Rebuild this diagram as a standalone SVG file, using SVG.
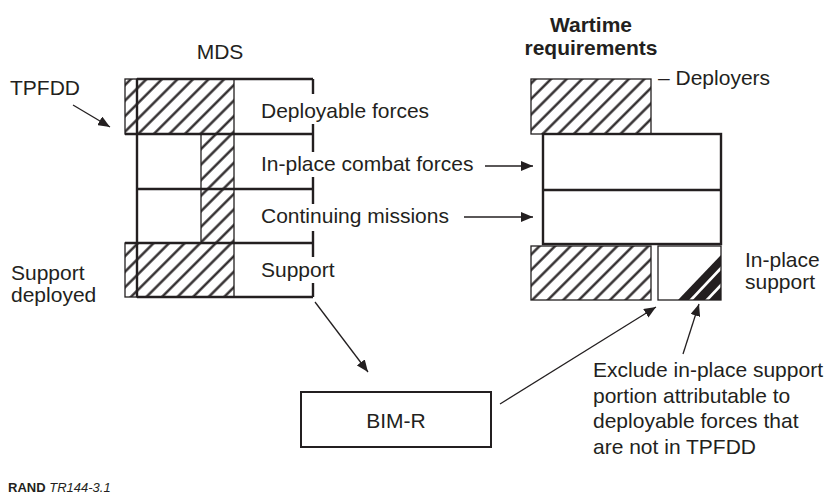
<svg xmlns="http://www.w3.org/2000/svg" width="831" height="496" viewBox="0 0 831 496">
  <style>
    text { font-family: "Liberation Sans", Arial, Helvetica, sans-serif; font-size: 21px; fill: #231f20; }
    .b { font-weight: bold; }
    .mid { text-anchor: middle; }
    .frame { fill: none; stroke: #231f20; stroke-width: 2.4; }
    .edge { fill: none; stroke: #231f20; stroke-width: 1.3; }
    .hatched { fill: url(#hatch); stroke: #231f20; stroke-width: 1.3; }
    .box { fill: #ffffff; stroke: #231f20; stroke-width: 2.4; }
    .bim { fill: #ffffff; stroke: #231f20; stroke-width: 2; }
    .conn { fill: none; stroke: #231f20; stroke-width: 1.3; marker-end: url(#arrow); }
    .foot { font-size: 13px; }
  </style>
  <defs>
    <!-- diagonal "/" hatching shared by all shaded areas -->
    <pattern id="hatch" patternUnits="userSpaceOnUse" width="11" height="11" patternTransform="rotate(45)">
      <rect width="11" height="11" fill="#ffffff"/>
      <line x1="5.5" y1="0" x2="5.5" y2="11" stroke="#231f20" stroke-width="2.3"/>
    </pattern>
    <marker id="arrow" markerUnits="userSpaceOnUse" markerWidth="13" markerHeight="10" refX="12" refY="5" orient="auto">
      <path d="M0,0 L12,5 L0,10 z" fill="#231f20"/>
    </marker>
  </defs>

  <rect width="831" height="496" fill="#ffffff"/>

  <!-- MDS column -->
  <g id="mds">
    <text class="mid" x="220" y="59">MDS</text>
    <rect class="hatched" x="125" y="79" width="12" height="55"/>
    <rect class="hatched" x="137" y="79" width="97" height="55"/>
    <rect class="hatched" x="201" y="134" width="33" height="109"/>
    <rect class="hatched" x="125" y="243" width="12" height="54"/>
    <rect class="hatched" x="137" y="243" width="97" height="54"/>
    <path class="frame" d="M137,79 V297 M137,79 H313 M125,134 H313 M137,189 H313 M125,243 H313 M137,297 H313"/>
    <!-- right edge, broken where the row labels cross it -->
    <path class="frame" d="M313,79 V94 M313,124 V152 M313,177 V204 M313,231 V257 M313,283 V297"/>
    <text x="261" y="118">Deployable forces</text>
    <text x="261" y="171">In-place combat forces</text>
    <text x="261" y="223">Continuing missions</text>
    <text x="261" y="277">Support</text>
  </g>

  <g id="tpfdd-label">
    <text x="10" y="95">TPFDD</text>
  </g>

  <g id="support-deployed-label">
    <text x="11" y="280">Support</text>
    <text x="11" y="302">deployed</text>
  </g>

  <!-- Wartime requirements column -->
  <g id="wartime">
    <text class="b mid" x="591" y="32">Wartime</text>
    <text class="b mid" x="591" y="55">requirements</text>
    <rect class="hatched" x="531" y="79" width="120" height="55"/>
    <text x="658" y="85">– Deployers</text>
    <rect class="box" x="543" y="134" width="178" height="110"/>
    <line class="frame" x1="543" y1="190" x2="721" y2="190"/>
    <rect class="hatched" x="531" y="246" width="120" height="54"/>
  </g>

  <g id="in-place-support">
    <polygon points="678,300 721,300 721,255" fill="#231f20"/>
    <line x1="689" y1="302" x2="723" y2="266" stroke="#ffffff" stroke-width="2.6"/>
    <line x1="705" y1="302" x2="723" y2="283" stroke="#ffffff" stroke-width="2.6"/>
    <rect class="edge" x="658" y="246" width="63" height="54"/>
    <text x="745" y="267">In-place</text>
    <text x="745" y="289">support</text>
  </g>

  <g id="bim-r">
    <rect class="bim" x="301" y="392" width="190" height="55"/>
    <text class="mid" x="396" y="428">BIM-R</text>
  </g>

  <g id="note">
    <text x="593" y="377">Exclude in-place support</text>
    <text x="593" y="402.5">portion attributable to</text>
    <text x="593" y="428">deployable forces that</text>
    <text x="593" y="453.5">are not in TPFDD</text>
  </g>

  <g id="connectors">
    <line class="conn" x1="73" y1="105" x2="110" y2="127"/>
    <line class="conn" x1="485" y1="166" x2="533" y2="166"/>
    <line class="conn" x1="464" y1="217" x2="533" y2="217"/>
    <line class="conn" x1="315" y1="302" x2="368" y2="372"/>
    <line class="conn" x1="500" y1="404" x2="656" y2="307"/>
    <line class="conn" x1="683" y1="354" x2="699" y2="304"/>
  </g>

  <g id="footer">
    <text class="foot" x="8" y="492"><tspan class="b">RAND</tspan> <tspan font-style="italic">TR144-3.1</tspan></text>
  </g>
</svg>
